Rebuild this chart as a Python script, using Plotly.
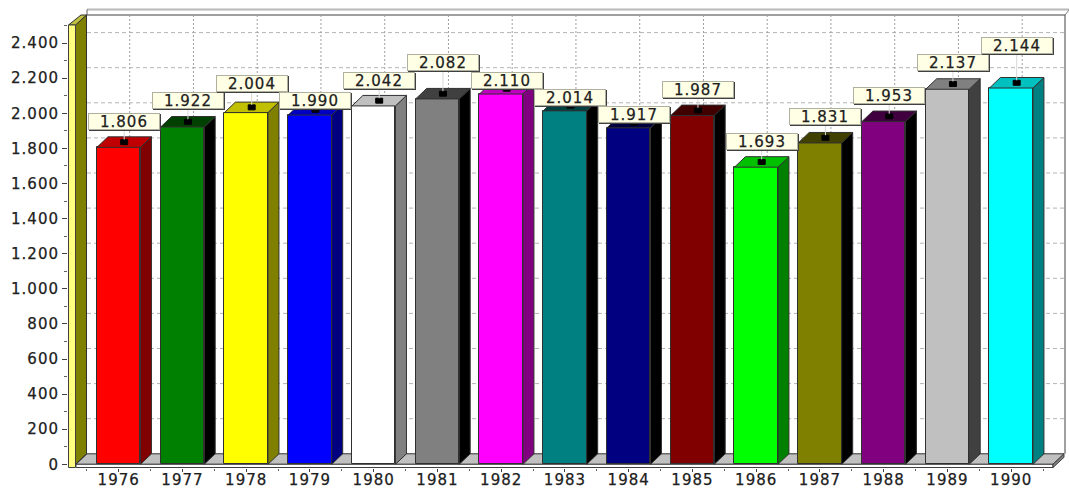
import plotly.graph_objects as go

years = [1976, 1977, 1978, 1979, 1980, 1981, 1982, 1983, 1984, 1985, 1986, 1987, 1988, 1989, 1990]
values = [1806, 1922, 2004, 1990, 2042, 2082, 2110, 2014, 1917, 1987, 1693, 1831, 1953, 2137, 2144]
value_labels = ["1.806", "1.922", "2.004", "1.990", "2.042", "2.082", "2.110", "2.014",
                "1.917", "1.987", "1.693", "1.831", "1.953", "2.137", "2.144"]
y_ticks = [0, 200, 400, 600, 800, 1000, 1200, 1400, 1600, 1800, 2000, 2200, 2400]
y_tick_labels = ["0", "200", "400", "600", "800", "1.000", "1.200", "1.400", "1.600",
                 "1.800", "2.000", "2.200", "2.400"]

# Styles
front = ["#FF0000", "#008000", "#FFFF00", "#0000FF", "#FFFFFF", "#808080", "#FF00FF", "#008080",
         "#000080", "#800000", "#00FF00", "#808000", "#800080", "#C0C0C0", "#00FFFF"]
side = ["#800000", "#000000", "#808000", "#000080", "#808080", "#000000", "#800080", "#000000",
        "#000000", "#000000", "#008000", "#000000", "#000000", "#404040", "#008080"]
top = ["#C00000", "#004000", "#C0C000", "#0000C0", "#C0C0C0", "#404040", "#C000C0", "#004040",
       "#000040", "#400000", "#00C000", "#404000", "#400040", "#808080", "#00C0C0"]
label_center_px = [121, 100, 83, 100, 80, 62.5, 80, 97, 114, 89, 141, 116, 95, 62, 45]

W, H = 1069, 489
L, R, T, B = 68, 1069, 8, 468      # plot area in page pixels
X0_PX, PX_PER_YEAR = 118.7, 63.75  # 1976 centre
Y0_PX, PX_PER_UNIT = 464.3, 0.1755  # value 0
DX, DY = 11.0, 10.5                # 3-D depth in pixels
BAR_PX = 43.5


def xv(px):
    return years[0] + (px - X0_PX) / PX_PER_YEAR


def yv(px):
    return (Y0_PX - px) / PX_PER_UNIT


depth_x = DX / PX_PER_YEAR
depth_y = DY / PX_PER_UNIT
half = BAR_PX / 2 / PX_PER_YEAR
EDGE = "#303030"

fig = go.Figure()

# front faces
fig.add_trace(go.Bar(x=years, y=values, width=BAR_PX / PX_PER_YEAR,
                     marker=dict(color=front, line=dict(color=EDGE, width=1)),
                     hoverinfo="skip"))

# side and top faces
for yr, v, sc, tc in zip(years, values, side, top):
    r = yr + half
    l = yr - half
    fig.add_trace(go.Scatter(x=[r, r + depth_x, r + depth_x, r, r],
                             y=[0, depth_y, v + depth_y, v, 0],
                             mode="lines", fill="toself", fillcolor=sc,
                             line=dict(color=EDGE, width=1), hoverinfo="skip"))
    fig.add_trace(go.Scatter(x=[l, l + depth_x, r + depth_x, r, l],
                             y=[v, v + depth_y, v + depth_y, v, v],
                             mode="lines", fill="toself", fillcolor=tc,
                             line=dict(color=EDGE, width=1), hoverinfo="skip"))

# value markers (small black rectangles on the top face)
mx = 3.5 / PX_PER_YEAR
my = 2.5 / PX_PER_UNIT
for yr, v in zip(years, values):
    cx = yr + depth_x / 2
    cy = v + depth_y / 2
    fig.add_trace(go.Scatter(x=[cx - mx, cx + mx, cx + mx, cx - mx, cx - mx],
                             y=[cy - my, cy - my, cy + my, cy + my, cy - my],
                             mode="lines", fill="toself", fillcolor="#000000",
                             line=dict(color="#000000", width=1), hoverinfo="skip"))

shapes = []


def poly(points, fill, line=EDGE, width=1):
    path = "M " + " L ".join(f"{xv(a):.4f},{yv(b):.2f}" for a, b in points) + " Z"
    shapes.append(dict(type="path", path=path, xref="x", yref="y", layer="below",
                       fillcolor=fill, line=dict(color=line, width=width)))


def seg(x0, y0, x1, y1, color, width=1, dash="solid"):
    shapes.append(dict(type="line", x0=xv(x0), y0=yv(y0), x1=xv(x1), y1=yv(y1), xref="x", yref="y",
                       layer="below", line=dict(color=color, width=width, dash=dash)))


FL, FR = 76, 1053         # front floor left/right
FB = Y0_PX
BY = FB - DY              # back floor line
BT = 15                   # back wall top

# frame of back wall
seg(87, BT, 1065, BT, "#404040", 1)
seg(87, 9.5, 1069, 9.5, "#B8B8B8", 2)
seg(87, 9.5, 87, BT, "#606060", 1)
seg(1065, BT, 1069, 10, "#808080", 1)
seg(1065, BT, 1065, BY, "#404040", 1)

# grid on back wall
for t in y_ticks[1:]:
    py = Y0_PX - t * PX_PER_UNIT - DY
    seg(87, py, 1065, py, "#B4B4B4", 1, "4px,3px")
for yr in years:
    px = X0_PX + (yr - years[0]) * PX_PER_YEAR + DX
    seg(px, BT, px, BY, "#A0A0A0", 1, "2px,2px")

# floor and front slab
poly([(FL, FB), (FL + DX, BY), (FR + DX, BY), (FR, FB)], "#C0C0C0")
poly([(FL, FB), (FR, FB), (FR, B - 0.5), (FL, B - 0.5)], "#FFFFFF", "#404040")
poly([(FR, FB), (FR + DX, BY), (FR + DX, BY + 3.5), (FR, B - 0.5)], "#808080", "#404040")

# left wall
poly([(75.5, 25), (86.5, BT), (86.5, BY), (75.5, FB)], "#808000")
poly([(68.5, 25), (75.5, 25), (86.5, BT), (81, BT)], "#C0C040")
poly([(68.5, 25), (75.5, 25), (75.5, B - 0.5), (68.5, B - 0.5)], "#FFFF80", "#404040")

# value labels
annotations = []
for yr, v, lab, py in zip(years, values, value_labels, label_center_px):
    x = yr + depth_x / 2
    shapes.append(dict(type="line", x0=x, x1=x, y0=v + depth_y / 2 + my, y1=yv(py),
                       xref="x", yref="y", layer="above", line=dict(color="#D8D8D8", width=1)))
    annotations.append(dict(x=x, y=yv(py), xref="x", yref="y", text=" ", showarrow=False,
                            xshift=1, yshift=-1, width=70, height=15, bgcolor="#404040",
                            bordercolor="#404040", borderwidth=1, borderpad=0))
    annotations.append(dict(x=x, y=yv(py), xref="x", yref="y", text=lab, showarrow=False,
                            width=70, height=15, bgcolor="#FFFFE6", bordercolor="#B0B0A0",
                            borderwidth=1, borderpad=0, align="center",
                            font=dict(family="DejaVu Sans", size=15, color="#202020")))

fig.update_layout(
    width=W, height=H,
    margin=dict(l=L, r=W - R, t=T, b=H - B, pad=0, autoexpand=False),
    paper_bgcolor="#FFFFFF", plot_bgcolor="#FFFFFF",
    showlegend=False, bargap=0,
    shapes=shapes, annotations=annotations,
    font=dict(family="DejaVu Sans", size=15, color="#202020"),
    xaxis=dict(range=[xv(L), xv(R)], tickmode="array", tickvals=years, ticktext=[str(y) for y in years],
               ticks="outside", ticklen=3, tickcolor="#404040", showgrid=False, zeroline=False,
               showline=False, automargin=False, ticklabelstandoff=-5,
               minor=dict(tickmode="array", tickvals=[y + 0.5 for y in [years[0] - 1] + years],
                          ticks="outside", ticklen=2, tickcolor="#606060", showgrid=False)),
    yaxis=dict(range=[yv(B), yv(T)], tickmode="array", tickvals=y_ticks, ticktext=y_tick_labels,
               ticks="outside", ticklen=5, tickcolor="#404040", showgrid=False, zeroline=False,
               showline=False, automargin=False,
               minor=dict(tickmode="array", tickvals=[t + 100 for t in y_ticks],
                          ticks="outside", ticklen=3, tickcolor="#606060", showgrid=False)),
)

# The reference's lettering is wide and slightly heavy: widen the tracking.
CSS = ".xtick text,.ytick text,.annotation-text{letter-spacing:1px;stroke:#202020;stroke-width:.25px}"
fig.write_html("out.html", config={"displayModeBar": False},
               post_script="document.body.style.margin='0';"
                           "var s=document.createElement('style');s.textContent='" + CSS + "';"
                           "document.head.appendChild(s);")
